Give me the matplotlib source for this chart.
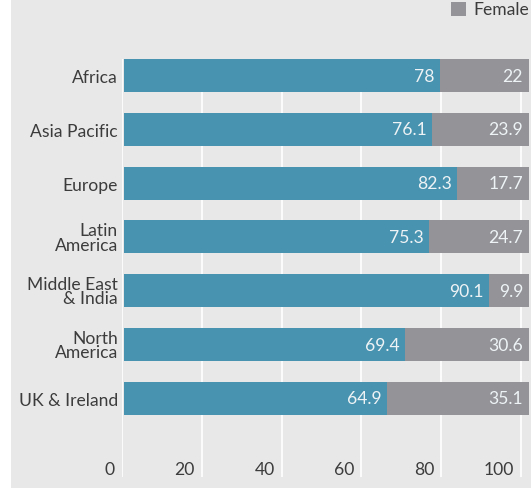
import matplotlib
matplotlib.use("Agg")
import matplotlib.pyplot as plt
from matplotlib.patches import Rectangle

categories = ["Africa", "Asia Pacific", "Europe", "Latin\nAmerica",
              "Middle East\n& India", "North\nAmerica", "UK & Ireland"]
male = [78, 76.1, 82.3, 75.3, 90.1, 69.4, 64.9]
female = [22, 23.9, 17.7, 24.7, 9.9, 30.6, 35.1]
male_labels = ["78", "76.1", "82.3", "75.3", "90.1", "69.4", "64.9"]
female_labels = ["22", "23.9", "17.7", "24.7", "9.9", "30.6", "35.1"]
xticks = [0, 20, 40, 60, 80, 100]

BLUE = "#4893b0"
GREY = "#939398"
BG = "#e8e8e8"
TXT = "#3c3c3c"
VAL = "#eef3f5"
FONT = "Lato"
FS = 12.6

W, H = 531, 489
fig = plt.figure(figsize=(W / 100, H / 100), dpi=100)
fig.patch.set_facecolor("white")
fig.patches.append(Rectangle((11 / W, 0), 1 - 11 / W, 1, transform=fig.transFigure,
                             facecolor=BG, edgecolor="none", zorder=-10))

def px(x0, y0, x1, y1):
    return [x0 / W, 1 - y1 / H, (x1 - x0) / W, (y1 - y0) / H]

TOP, BOT = 60, 478
rect = px(122, TOP, 531, BOT)
# grid / tick axis
gax = fig.add_axes(rect)
gax.set_facecolor("none")
gax.set_xlim(0, (531 - 122) / 3.99)
gax.set_ylim(0, 1)
gax.set_xticks(xticks)
gax.set_xticklabels([])
gax.tick_params(axis="x", length=0)
gax.set_yticks([])
gax.grid(axis="x", color="white", linewidth=1.2)
for s in gax.spines.values():
    s.set_visible(False)
for t in xticks:
    gax.annotate(str(t), (t, 0), xycoords=("data", "axes fraction"), xytext=(-7, 8),
                 textcoords="offset pixels", ha="right", va="center",
                 fontfamily=FONT, fontsize=FS, color=TXT)

# bar axis
ax = fig.add_axes(rect)
ax.set_facecolor("none")
x0 = -(124 - 122) / 4.05
ax.set_xlim(x0, x0 + (531 - 122) / 4.05)
yc = list(range(len(categories)))
ax.set_ylim(6 + (BOT - 399.5) / 53.83, -(76.5 - TOP) / 53.83)
bh = 33 / 53.83
ax.barh(yc, male, height=bh, color=BLUE, label="Male")
ax.barh(yc, female, left=male, height=bh, color=GREY, label="Female")
ax.set_yticks(yc)
ax.set_yticklabels(categories, fontfamily=FONT, fontsize=FS, color=TXT, linespacing=0.85)
ax.tick_params(axis="y", length=0, pad=3)
ax.set_xticks([])
for s in ax.spines.values():
    s.set_visible(False)

for i in range(len(categories)):
    ax.annotate(male_labels[i], (male[i], yc[i]), xytext=(-5, 0), textcoords="offset pixels",
                ha="right", va="center", fontfamily=FONT, fontsize=FS, color=VAL)
    ax.annotate(female_labels[i], (male[i] + female[i], yc[i]), xytext=(-6, 0),
                textcoords="offset pixels", ha="right", va="center",
                fontfamily=FONT, fontsize=FS, color=VAL)

# legend (only Female visible)
fig.patches.append(Rectangle((451 / W, 1 - 17 / H), 15 / W, 14 / H, transform=fig.transFigure,
                             facecolor=GREY, edgecolor="none"))
fig.text(473 / W, 1 - 10 / H, "Female", fontfamily=FONT, fontsize=FS, color=TXT,
         ha="left", va="center")

fig.savefig("out.png", dpi=100, facecolor=fig.get_facecolor())
